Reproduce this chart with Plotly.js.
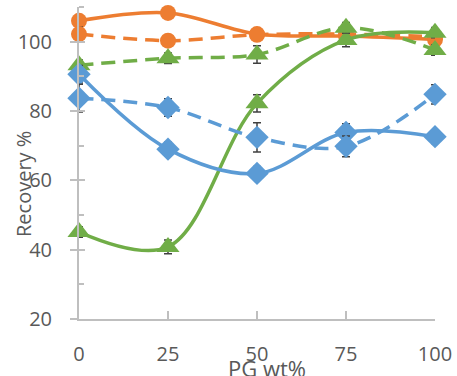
<!DOCTYPE html>
<html>
<head>
<meta charset="utf-8">
<script src="https://cdn.plot.ly/plotly-3.0.1.min.js"></script>
<style>
  html, body { margin: 0; padding: 0; background: #ffffff; }
  #chart { width: 457px; height: 376px; }
</style>
</head>
<body>
<div id="chart"></div>
<script>
// PG content (wt%)
const pgWt = [0, 25, 50, 75, 100];
const xTickLabels = ['0', '25', '50', '75', '100'];
const yTickValues = [20, 40, 60, 80, 100];

// Recovery (%) and error-bar half widths for each series
const orangeSolid = [106.0, 108.3, 102.2, 101.6, 100.6];
const orangeSolidErr = [1.5, 1.0, 1.2, 1.0, 1.0];
const orangeDashed = [102.2, 100.3, 102.0, 102.2, 101.4];
const orangeDashedErr = [2.0, 1.0, 1.0, 1.0, 1.5];
const greenSolid = [45.1, 40.8, 82.2, 100.5, 102.6];
const greenSolidErr = [1.5, 2.0, 2.5, 2.0, 1.5];
const greenDashed = [93.2, 95.2, 96.3, 104.0, 97.6];
const greenDashedErr = [1.5, 1.5, 2.5, 1.5, 1.5];
const blueSolid = [90.6, 69.0, 62.0, 73.8, 72.6];
const blueSolidErr = [2.5, 2.0, 2.0, 2.5, 2.0];
const blueDashed = [83.7, 81.0, 72.4, 69.8, 84.8];
const blueDashedErr = [4.0, 2.5, 4.2, 3.0, 2.8];

const ORANGE = '#ED7D31', GREEN = '#70AD47', BLUE = '#5B9BD5';
const DASH = '14px,8px';

function series(y, err, color, dash, symbol, size) {
  return {
    x: pgWt, y: y, type: 'scatter', mode: 'lines+markers',
    line: { color: color, width: 3.5, dash: dash, shape: 'spline', smoothing: 1 },
    marker: { color: color, symbol: symbol, size: size },
    error_y: { type: 'data', array: err, visible: true, color: '#404040', thickness: 1.5, width: 4 },
    cliponaxis: false, showlegend: false, hoverinfo: 'x+y'
  };
}

const data = [
  series(orangeSolid, orangeSolidErr, ORANGE, 'solid', 'circle', 16),
  series(orangeDashed, orangeDashedErr, ORANGE, DASH, 'circle', 16),
  series(greenSolid, greenSolidErr, GREEN, 'solid', 'triangle-up', 20),
  series(greenDashed, greenDashedErr, GREEN, DASH, 'triangle-up', 20),
  series(blueSolid, blueSolidErr, BLUE, 'solid', 'diamond', 18),
  series(blueDashed, blueDashedErr, BLUE, DASH, 'diamond', 18)
];

// inner half of the crossing major ticks on the value axis
data.push({ x: [null], y: [null], yaxis: 'y2', type: 'scatter', showlegend: false, hoverinfo: 'skip' });

const FONT = 'Open Sans, Noto Sans, sans-serif';
const AXIS_GRAY = '#BFBFBF';

const layout = {
  width: 457, height: 376,
  margin: { l: 79, r: 22, t: 7, b: 57, pad: 0 },
  paper_bgcolor: '#ffffff', plot_bgcolor: '#ffffff',
  font: { family: FONT, color: '#595959', size: 20 },
  showlegend: false,
  xaxis: {
    range: [0, 100], tickvals: pgWt, ticktext: xTickLabels,
    showgrid: false, zeroline: false,
    showline: true, linecolor: AXIS_GRAY, linewidth: 2,
    ticks: 'inside', ticklen: 8, tickwidth: 2, tickcolor: AXIS_GRAY,
    ticklabelstandoff: 16,
    tickfont: { family: FONT, size: 20, color: '#595959' }
  },
  yaxis: {
    range: [20, 110], tickvals: yTickValues,
    showgrid: false, zeroline: false,
    showline: true, linecolor: AXIS_GRAY, linewidth: 2,
    ticks: 'outside', ticklen: 7, tickwidth: 2, tickcolor: AXIS_GRAY,
    ticklabelstandoff: 14,
    tickfont: { family: FONT, size: 20, color: '#595959' },
    minor: { tickvals: [30, 50, 70, 90, 110], ticks: 'inside', ticklen: 5, tickwidth: 2, tickcolor: AXIS_GRAY }
  },
  yaxis2: {
    overlaying: 'y', anchor: 'x', side: 'left',
    range: [20, 110], tickvals: yTickValues,
    showgrid: false, zeroline: false, showline: false, showticklabels: false,
    ticks: 'inside', ticklen: 6, tickwidth: 2, tickcolor: AXIS_GRAY
  },
  annotations: [
    {
      text: 'Recovery %', xref: 'paper', yref: 'paper',
      x: (23 - 79) / 356, y: (319 - 184) / 312,
      xanchor: 'center', yanchor: 'middle', textangle: -90, showarrow: false,
      font: { family: FONT, size: 20, color: '#595959' }
    },
    {
      text: 'PG wt%', xref: 'paper', yref: 'paper',
      x: (267 - 79) / 356, y: (319 - 368) / 312,
      xanchor: 'center', yanchor: 'middle', showarrow: false,
      font: { family: FONT, size: 22, color: '#595959' }
    }
  ]
};

Plotly.newPlot('chart', data, layout, { staticPlot: true, displayModeBar: false });
</script>
</body>
</html>
